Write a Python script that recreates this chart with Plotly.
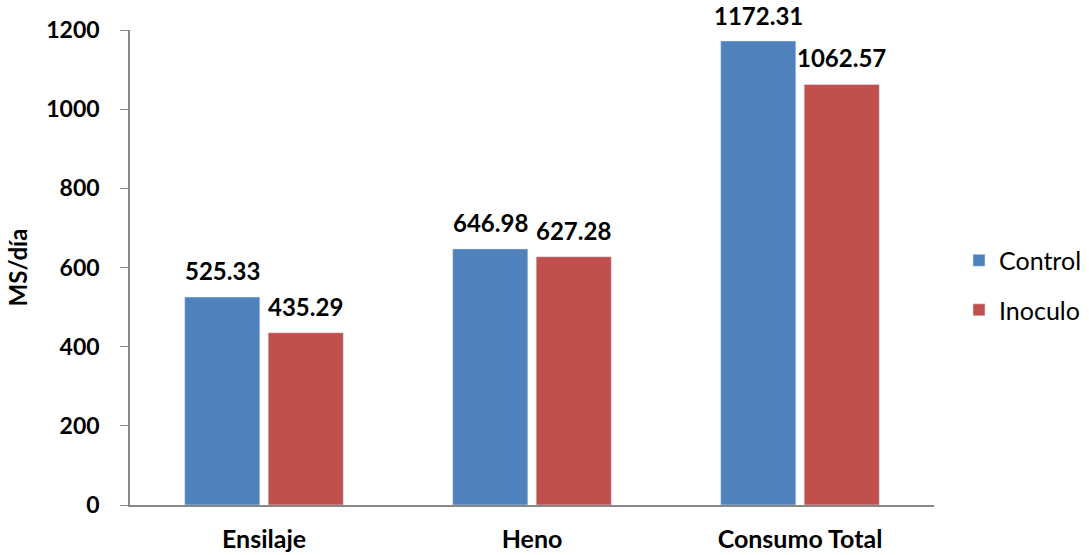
import plotly.graph_objects as go

categorias = ["Ensilaje", "Heno", "Consumo Total"]
control = [525.33, 646.98, 1172.31]
inoculo = [435.29, 627.28, 1062.57]
y_ticks = [0, 200, 400, 600, 800, 1000, 1200]

AZUL = "#4F81BD"
ROJO = "#C0504D"
FUENTE = "Lato, Open Sans, sans-serif"

W, H = 1089, 555
M_L, M_T, M_B = 130, 30, 50
PLOT_W = 804                     # width of the bar area in px
Y_MAX = 1200
PX_PER_UNIT = (H - M_T - M_B) / Y_MAX

fig = go.Figure()
fig.add_trace(go.Bar(name="Control", x=categorias, y=control, marker_color=AZUL,
                     legendgroup="c"))
fig.add_trace(go.Bar(name="Inoculo", x=categorias, y=inoculo, marker_color=ROJO,
                     legendgroup="i"))

# value labels above each bar; tall bars get a tighter gap so the label stays on the page
SLOT_SHIFT = 41.75
for serie, desplaz in ((control, -SLOT_SHIFT), (inoculo, SLOT_SHIFT)):
    for cat, val in zip(categorias, serie):
        headroom = (Y_MAX - val) * PX_PER_UNIT + M_T
        gap = min(10, headroom - 32)
        fig.add_annotation(x=cat, y=val, text=f"<b>{val:.2f}</b>", showarrow=False,
                           xshift=desplaz, yshift=gap, yanchor="bottom",
                           font=dict(family=FUENTE, size=24, color="black"))

paper_w = W - M_L
fig.update_layout(
    width=W, height=H,
    margin=dict(l=M_L, r=0, t=M_T, b=M_B),
    plot_bgcolor="white", paper_bgcolor="white",
    barmode="group", bargap=0.377, bargroupgap=0.1,
    font=dict(family=FUENTE, color="black"),
    legend=dict(x=(959 - M_L) / paper_w, y=0.463, xanchor="left", yanchor="middle",
                font=dict(family=FUENTE, size=25, color="black"),
                tracegroupgap=14),
    showlegend=True,
)
fig.update_yaxes(range=[0, Y_MAX], tickvals=y_ticks, showgrid=False,
                 showline=True, linecolor="#888888", linewidth=1.5,
                 ticks="outside", ticklen=8, tickcolor="#888888",
                 ticklabelstandoff=16, automargin=False,
                 tickfont=dict(family=FUENTE, size=23, color="black", weight="bold"),
                 title=dict(text="<b>MS/día</b>", standoff=12,
                            font=dict(family=FUENTE, size=24, color="black")),
                 zeroline=False)
fig.update_xaxes(domain=[0, PLOT_W / paper_w],
                 showline=True, linecolor="#888888", linewidth=1.5,
                 ticks="", showgrid=False, ticklabelstandoff=11, automargin=False,
                 tickfont=dict(family=FUENTE, size=25, color="black", weight="bold"))

fig.write_html("out.html")
